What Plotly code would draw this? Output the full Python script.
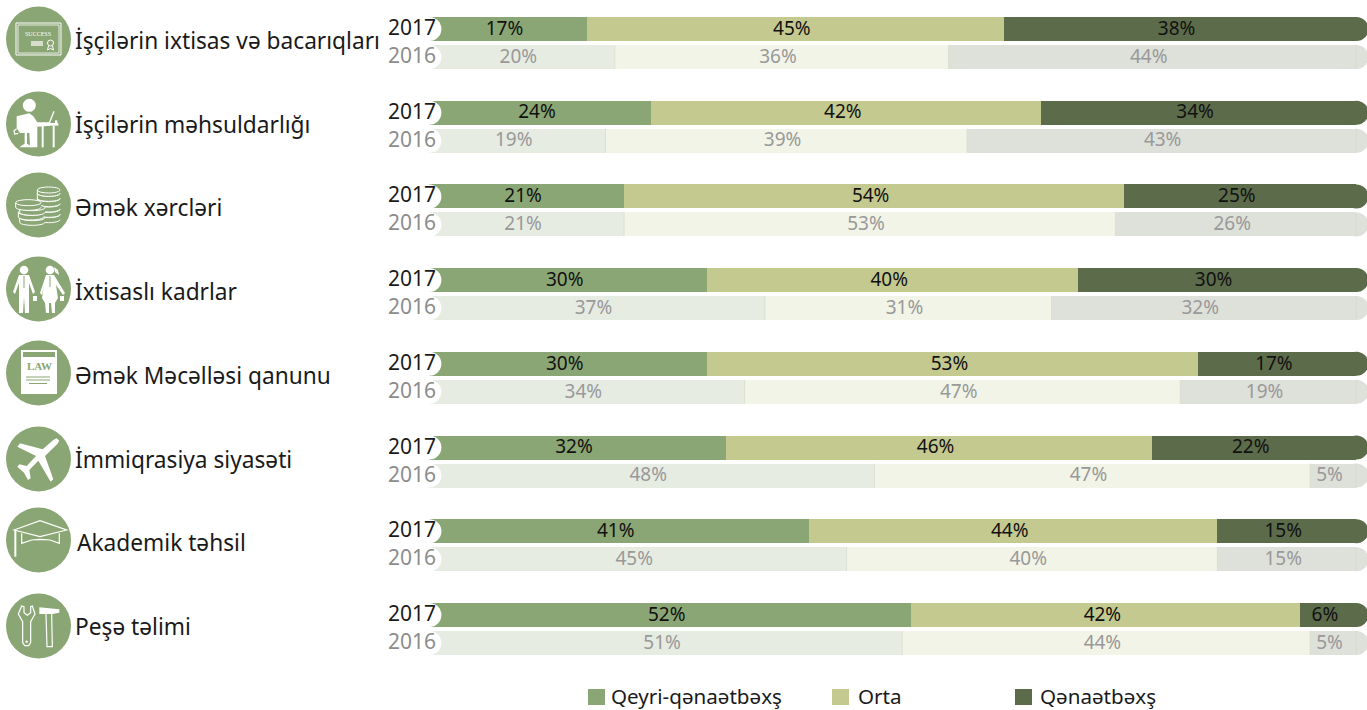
import math
import plotly.graph_objects as go

W, H = 1367, 710
X0, X1 = 429.4, 1356.4
TOP, PITCH, BAR = 29, 83.7, 24

categories = ["İşçilərin ixtisas və bacarıqları", "İşçilərin məhsuldarlığı", "Əmək xərcləri",
              "İxtisaslı kadrlar", "Əmək Məcəlləsi qanunu", "İmmiqrasiya siyasəti",
              "Akademik təhsil", "Peşə təlimi"]
series_names = ["Qeyri-qənaətbəxş", "Orta", "Qənaətbəxş"]
low_2017 = [17, 24, 21, 30, 30, 32, 41, 52]
mid_2017 = [45, 42, 54, 40, 53, 46, 44, 42]
high_2017 = [38, 34, 25, 30, 17, 22, 15, 6]
# drawn lengths of the 2016 bars (the fourth row is drawn shorter than its printed label)
low_2016 = [20, 19, 21, 36.2, 34, 48, 45, 51]
mid_2016 = [36, 39, 53, 30.9, 47, 47, 40, 44]
high_2016 = [44, 43, 26, 32.9, 19, 5, 15, 5]
# printed 2016 labels
low_2016_labels = [20, 19, 21, 37, 34, 48, 45, 51]
mid_2016_labels = [36, 39, 53, 31, 47, 47, 40, 44]
high_2016_labels = [44, 43, 26, 32, 19, 5, 15, 5]

colors_2017 = ["#8AA674", "#C4C98F", "#5C6B4A"]
colors_2016 = ["#E7ECE3", "#F2F4E8", "#DEE0DA"]
SEP = "#DCE0D4"
FONT = "Noto Sans"
TEXT = "#1A1A1A"
GRAY = "#999999"

rows_y = [i * 1.0 for i in range(8)]
y_2017 = rows_y
y_2016 = [v + 28 / PITCH for v in rows_y]
BW = BAR / PITCH

fig = go.Figure()
data17 = [low_2017, mid_2017, high_2017]
data16 = [low_2016, mid_2016, high_2016]
labels17 = data17
labels16 = [low_2016_labels, mid_2016_labels, high_2016_labels]

for ys, data, cols in ((y_2017, data17, colors_2017), (y_2016, data16, colors_2016)):
    for name, vals, c in zip(series_names, data, cols):
        fig.add_trace(go.Bar(orientation="h", y=ys, x=vals, name=name, width=BW,
                             marker=dict(color=c, line=dict(width=0)), showlegend=False,
                             hoverinfo="x+name"))

# rounded caps: right end in the last series' colour, left end cut out in white
for ys, c in ((y_2017, colors_2017[2]), (y_2016, colors_2016[2])):
    fig.add_trace(go.Scatter(x=[100] * 8, y=ys, mode="markers", cliponaxis=False, showlegend=False,
                             hoverinfo="skip", marker=dict(size=BAR, color=c, line=dict(width=0))))
fig.add_trace(go.Scatter(x=[0] * 16, y=y_2017 + y_2016, mode="markers", cliponaxis=False,
                         showlegend=False, hoverinfo="skip",
                         marker=dict(size=BAR, color="white", line=dict(width=0))))

# percent labels
SHIFT = -0.4
for ys, data, labs, col in ((y_2017, data17, labels17, "#111111"), (y_2016, data16, labels16, GRAY)):
    xs, yy, tt = [], [], []
    for i in range(8):
        start = 0
        for s, l in zip(data, labs):
            xs.append(start + s[i] / 2 + SHIFT)
            yy.append(ys[i] + 1.0 / PITCH)
            tt.append(f"{l[i]}%")
            start += s[i]
    fig.add_trace(go.Scatter(x=xs, y=yy, text=tt, mode="text", showlegend=False, hoverinfo="skip",
                             textfont=dict(family=FONT, size=19, color=col), cliponaxis=False))

shapes, ann = [], []

# faint separators on the pale 2016 bars
for i in range(8):
    a = low_2016[i]
    b = a + mid_2016[i]
    for xv, lc in ((a, SEP), (b, SEP), (100, "#D2D5CB")):
        shapes.append(dict(type="line", xref="x", yref="y", x0=xv, x1=xv,
                           y0=y_2016[i] - BW / 2, y1=y_2016[i] + BW / 2,
                           line=dict(color=lc, width=1), layer="above"))

# years
for i in range(8):
    for yv, lab, col in ((y_2017[i], "2017", TEXT), (y_2016[i], "2016", "#8C8C8C")):
        ann.append(dict(xref="paper", yref="y", x=386.5 / W, y=yv - 2.0 / PITCH, text=lab, showarrow=False,
                        xanchor="left", yanchor="middle",
                        font=dict(family=FONT, size=21, color=col)))

# category labels
label_px = [(73, 40), (73, 125), (73, 207), (73, 291), (73, 375), (73, 459), (75, 542), (73, 626)]
for (px, py), t in zip(label_px, categories):
    ann.append(dict(xref="paper", yref="paper", x=px / W, y=1 - py / H, text=t, showarrow=False,
                    xanchor="left", yanchor="middle", font=dict(family=FONT, size=22.7, color=TEXT)))

# legend
for px, tx, name, c in zip((588, 832, 1015), (609, 856, 1038), series_names, colors_2017):
    shapes.append(dict(type="rect", xref="paper", yref="paper", x0=px / W, x1=(px + 17) / W,
                       y0=1 - 705 / H, y1=1 - 689 / H, fillcolor=c, line=dict(width=0)))
    ann.append(dict(xref="paper", yref="paper", x=tx / W, y=1 - 696 / H, text=name, showarrow=False,
                    xanchor="left", yanchor="middle", font=dict(family=FONT, size=20.6, color=TEXT)))


# ---- icons (decoration, drawn in page pixels) ----
def P(pts, close=True):
    s = ""
    for k, (x, y) in enumerate(pts):
        s += ("M" if k == 0 else "L") + f"{x / W:.5f},{1 - y / H:.5f}"
    return s + ("Z" if close else "")


def add_path(pts, fill=None, lw=1.2, close=True, col="white"):
    d = dict(type="path", xref="paper", yref="paper", path=P(pts, close), layer="above")
    if fill:
        d.update(fillcolor=fill, line=dict(width=0))
    else:
        d.update(line=dict(color=col, width=lw))
    shapes.append(d)


def circ(cx, cy, rx, ry=None, fill=None, lw=1.2, col="white"):
    ry = rx if ry is None else ry
    d = dict(type="circle", xref="paper", yref="paper", x0=(cx - rx) / W, x1=(cx + rx) / W,
             y0=1 - (cy + ry) / H, y1=1 - (cy - ry) / H, layer="above")
    if fill:
        d.update(fillcolor=fill, line=dict(width=0))
    else:
        d.update(line=dict(color=col, width=lw))
    shapes.append(d)


def rect(x0, y0, x1, y1, fill=None, lw=1.2, col="white"):
    add_path([(x0, y0), (x1, y0), (x1, y1), (x0, y1)], fill=fill, lw=lw, col=col)


def zoomed(pts, oy):
    return [(x / 3, oy + y / 3) for x, y in pts]


def center_text(px, py, text, family, size, col):
    ann.append(dict(xref="paper", yref="paper", x=px / W, y=1 - py / H, text=text, showarrow=False,
                    xanchor="center", yanchor="middle", font=dict(family=family, size=size, color=col)))


G = colors_2017[0]
for cy in (39, 124, 205, 289, 373, 459, 540, 626):
    circ(38.5, cy, 32.5, fill=G)

# certificate
rect(16, 23, 61, 55, lw=1)
rect(18, 25, 59, 53, lw=0.8)
center_text(38, 33.5, "SUCCESS", "Liberation Serif", 6, "white")
rect(31, 41, 43, 46, fill="#D6DDCB")
circ(50.5, 43, 3, lw=1)
add_path([(48.5, 46), (47.5, 50), (50.5, 48.5), (53.5, 50), (52.5, 46)], close=False, lw=1)

# person at a desk
OY = 88
circ(88 / 3, OY + 52 / 3, 6.5, fill="white")
add_path(zoomed([(50, 85), (88, 76), (100, 85), (112, 103), (150, 103), (150, 113), (112, 116), (112, 178),
                 (90, 178), (88, 135), (60, 135), (50, 120)], OY), fill="white")
rect(100 / 3, OY + 105 / 3, 175 / 3, OY + 113 / 3, fill="white")
rect(125 / 3, OY + 113 / 3, 131 / 3, OY + 178 / 3, fill="white")
rect(158 / 3, OY + 113 / 3, 164 / 3, OY + 178 / 3, fill="white")
add_path(zoomed([(148, 105), (162, 70)], OY), lw=1.3, close=False)
rect(165 / 3, OY + 97 / 3, 172 / 3, OY + 105 / 3, fill="white")
add_path(zoomed([(50, 122), (42, 128), (44, 138), (55, 136)], OY), lw=1.2, close=False)
rect(74 / 3, OY + 135 / 3, 81 / 3, OY + 168 / 3, fill="white")
add_path(zoomed([(58, 178), (77, 165), (100, 178)], OY), fill="white")


# coins
def coin(cx, cy, rx, ry, h):
    top = [(cx + rx * math.cos(t * math.pi / 12), cy + ry * math.sin(t * math.pi / 12)) for t in range(24)]
    low = [(cx + rx * math.cos(t * math.pi / 12), cy + h + ry * math.sin(t * math.pi / 12)) for t in range(13)]
    add_path(low + [(cx - rx, cy)] + top[12:] + top[:1], fill=G)
    add_path(low + [(cx - rx, cy)], lw=1, close=False)
    add_path(top, lw=1)


OY = 170
for zy in (134, 118, 102, 86, 70):
    coin(146 / 3, OY + zy / 3, 34 / 3, 9 / 3, 15 / 3)
coin(146 / 3, OY + 60 / 3, 34 / 3, 9 / 3, 10 / 3)
for zx, zy in ((97, 143), (93, 127), (97, 113), (85, 98)):
    coin(zx / 3, OY + zy / 3, 38 / 3, 9 / 3, 14 / 3)

# two people
circ(24, 270, 4.3, fill="white")
add_path([(19, 275), (29, 275), (35, 292), (33, 294), (29, 283), (29, 313), (25, 313), (24, 297),
          (23, 313), (19, 313), (19, 283), (15, 294), (13, 292)], fill="white")
add_path([(24, 276), (24, 288)], lw=1, close=False, col=G)
rect(33, 296, 37, 301, fill="white")
circ(50, 270, 4.3, fill="white")
add_path([(54, 267), (58, 270), (59, 275), (55, 272)], fill="white")
add_path([(46, 275), (54, 275), (65, 293), (63, 295), (56, 285), (58, 298), (55, 303), (55, 313),
          (52, 313), (51, 303), (49, 303), (49, 313), (46, 313), (45, 303), (42, 298), (44, 285),
          (42, 295), (40, 293)], fill="white")
add_path([(50, 276), (50, 287)], lw=1, close=False, col=G)
rect(60, 296, 64, 301, fill="white")

# law document
rect(21, 350, 57, 394, fill="white")
rect(23, 352, 55, 357, fill=G)
center_text(39, 365.5, "<b>LAW</b>", "Liberation Serif", 11, G)
rect(26, 376.5, 50, 377.5, fill=G)
rect(26, 379.5, 50, 380.5, fill=G)
rect(29, 383, 47, 384, fill=G)

# plane
plane = [(170, 55), (178, 62), (172, 72), (135, 108), (160, 178), (152, 185), (115, 122), (88, 150),
         (92, 175), (84, 180), (72, 158), (52, 140), (58, 133), (80, 138), (108, 108), (52, 80),
         (60, 70), (128, 88), (160, 60)]
add_path(zoomed(plane, 420), fill="white")

# graduation cap
add_path(zoomed([(42, 90), (120, 62), (200, 90), (120, 110)], 500), lw=1.2)
add_path(zoomed([(65, 100), (65, 130), (95, 120), (120, 118), (150, 120), (178, 130), (178, 100)], 500),
         lw=1.2, close=False)
add_path(zoomed([(46, 90), (46, 170)], 500), lw=2, close=False)

# wrench and hammer
OY = 590
add_path(zoomed([(65, 48), (55, 72), (68, 95), (68, 158), (74, 167), (86, 167), (92, 158), (92, 95),
                 (105, 72), (97, 48), (92, 50), (92, 68), (82, 76), (72, 68), (72, 50)], OY), lw=1.2)
circ(80 / 3, OY + 155 / 3, 1.2, fill="white")
add_path(zoomed([(118, 52), (178, 58), (178, 68), (158, 72), (118, 72)], OY), fill="white")
add_path(zoomed([(138, 72), (141, 170), (157, 170), (155, 72)], OY), lw=1.2, close=False)

fig.update_layout(
    width=W, height=H, margin=dict(l=0, r=0, t=0, b=0), barmode="stack", bargap=0,
    paper_bgcolor="white", plot_bgcolor="white", showlegend=False, shapes=shapes, annotations=ann,
    xaxis=dict(domain=[X0 / W, X1 / W], range=[0, 100], visible=False, fixedrange=True),
    yaxis=dict(domain=[0, 1], range=[(H - TOP) / PITCH, -TOP / PITCH], visible=False, fixedrange=True),
)
fig.write_html("out.html", config={"displayModeBar": False},
               post_script="document.body.style.margin='0';document.body.style.overflow='hidden';")
